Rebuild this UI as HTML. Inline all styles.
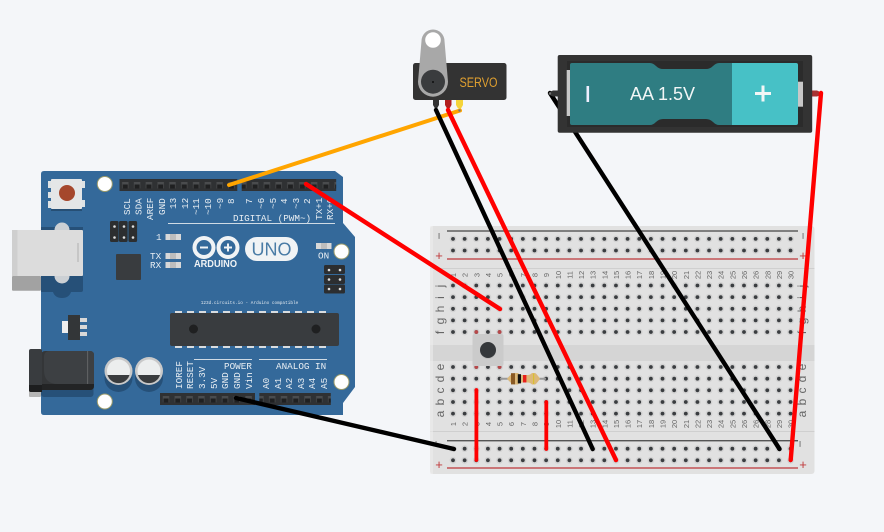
<!DOCTYPE html>
<html><head><meta charset="utf-8"><style>
html,body{margin:0;padding:0;background:#f4f6f9;width:884px;height:532px;overflow:hidden}
svg{display:block}
.m{font-family:"Liberation Mono",monospace;fill:#e8eef3;font-size:9.3px}
.n{font-family:"Liberation Sans",sans-serif;fill:#666;font-size:7.5px;text-anchor:middle}
.l{font-family:"Liberation Sans",sans-serif;fill:#666;font-size:12px;text-anchor:middle}
</style></head><body>
<svg width="884" height="532" viewBox="0 0 884 532" xmlns="http://www.w3.org/2000/svg">
<defs>
<g id="h"><circle r="3.4" fill="#d2d2d2"/><circle r="1.9" fill="#3a3d40"/></g>
<g id="r">
<use href="#h" x="453"/><use href="#h" x="464.64"/><use href="#h" x="476.28"/><use href="#h" x="487.92"/><use href="#h" x="499.56"/><use href="#h" x="511.2"/><use href="#h" x="522.84"/><use href="#h" x="534.48"/><use href="#h" x="546.12"/><use href="#h" x="557.76"/>
<use href="#h" x="569.4"/><use href="#h" x="581.04"/><use href="#h" x="592.68"/><use href="#h" x="604.32"/><use href="#h" x="615.96"/><use href="#h" x="627.6"/><use href="#h" x="639.24"/><use href="#h" x="650.88"/><use href="#h" x="662.52"/><use href="#h" x="674.16"/>
<use href="#h" x="685.8"/><use href="#h" x="697.44"/><use href="#h" x="709.08"/><use href="#h" x="720.72"/><use href="#h" x="732.36"/><use href="#h" x="744"/><use href="#h" x="755.64"/><use href="#h" x="767.28"/><use href="#h" x="778.92"/><use href="#h" x="790.56"/>
</g>
<pattern id="pins" patternUnits="userSpaceOnUse" x="119.3" y="179" width="11.8" height="12">
<rect width="11.8" height="12" fill="#2f3133"/><rect x="2.8" y="3" width="6.4" height="6.4" fill="#4a4c4e"/><rect x="3.5" y="5.5" width="5" height="4" fill="#1f2021"/></pattern>
<pattern id="pins2" patternUnits="userSpaceOnUse" x="160" y="393" width="11.8" height="12">
<rect width="11.8" height="12" fill="#2f3133"/><rect x="2.8" y="3" width="6.4" height="6.4" fill="#4a4c4e"/><rect x="3.5" y="5.5" width="5" height="4" fill="#1f2021"/></pattern>
</defs>

<!-- breadboard -->
<rect x="430" y="226" width="384.5" height="248" rx="3" fill="#e1e1e1"/>
<rect x="430" y="345" width="384.5" height="16" fill="#d5d5d5"/>
<rect x="430" y="268" width="384.5" height="1" fill="#cfcfcf"/>
<rect x="430" y="431" width="384.5" height="1" fill="#cfcfcf"/>
<rect x="430" y="226" width="3" height="248" fill="#ececec" opacity=".6"/>
<rect x="447" y="230.3" width="351" height="1.4" fill="#555"/>
<rect x="447" y="258.3" width="351" height="1.4" fill="#c0494b"/>
<rect x="447" y="440" width="351" height="1.4" fill="#555"/>
<rect x="447" y="467.3" width="351" height="1.4" fill="#c0494b"/>
<use href="#r" y="238.9"/><use href="#r" y="250.5"/>
<use href="#r" y="285.5"/><use href="#r" y="297.1"/><use href="#r" y="308.8"/><use href="#r" y="320.4"/><use href="#r" y="332"/>
<use href="#r" y="367"/><use href="#r" y="378.7"/><use href="#r" y="390.3"/><use href="#r" y="402"/><use href="#r" y="413.6"/>
<use href="#r" y="448.7"/><use href="#r" y="460.3"/>
<circle cx="476.3" cy="332" r="1.9" fill="#b8484a"/><circle cx="499.6" cy="332" r="1.9" fill="#b8484a"/>
<circle cx="476.3" cy="367" r="1.9" fill="#b8484a"/><circle cx="499.6" cy="367" r="1.9" fill="#b8484a"/>
<text x="439" y="240" class="l" transform="rotate(-90 439 236)">−</text>
<text x="439" y="260" class="l" style="fill:#c0393b;font-size:13px">+</text>
<text x="439" y="445" class="l" transform="rotate(-90 439 444)">−</text>
<text x="439" y="469" class="l" style="fill:#c0393b;font-size:13px">+</text>
<text x="803" y="240" class="l" transform="rotate(-90 803 236)">−</text>
<text x="803" y="260" class="l" style="fill:#c0393b;font-size:13px">+</text>
<text x="803" y="445" class="l" transform="rotate(-90 803 444)">−</text>
<text x="803" y="469" class="l" style="fill:#c0393b;font-size:13px">+</text>
<g>
<text class="l" transform="translate(444,286) rotate(-90)">j</text><text class="l" transform="translate(444,297.5) rotate(-90)">i</text><text class="l" transform="translate(444,309) rotate(-90)">h</text><text class="l" transform="translate(444,321) rotate(-90)">g</text><text class="l" transform="translate(444,332.5) rotate(-90)">f</text>
<text class="l" transform="translate(444,367) rotate(-90)">e</text><text class="l" transform="translate(444,379) rotate(-90)">d</text><text class="l" transform="translate(444,390.5) rotate(-90)">c</text><text class="l" transform="translate(444,402) rotate(-90)">b</text><text class="l" transform="translate(444,414) rotate(-90)">a</text>
<text class="l" transform="translate(806,286) rotate(-90)">j</text><text class="l" transform="translate(806,297.5) rotate(-90)">i</text><text class="l" transform="translate(806,309) rotate(-90)">h</text><text class="l" transform="translate(806,321) rotate(-90)">g</text><text class="l" transform="translate(806,332.5) rotate(-90)">f</text>
<text class="l" transform="translate(806,367) rotate(-90)">e</text><text class="l" transform="translate(806,379) rotate(-90)">d</text><text class="l" transform="translate(806,390.5) rotate(-90)">c</text><text class="l" transform="translate(806,402) rotate(-90)">b</text><text class="l" transform="translate(806,414) rotate(-90)">a</text>
</g>
<g>
<text class="n" transform="translate(456,275) rotate(-90)">1</text><text class="n" transform="translate(467.6,275) rotate(-90)">2</text><text class="n" transform="translate(479.3,275) rotate(-90)">3</text><text class="n" transform="translate(490.9,275) rotate(-90)">4</text><text class="n" transform="translate(502.6,275) rotate(-90)">5</text><text class="n" transform="translate(514.2,275) rotate(-90)">6</text><text class="n" transform="translate(525.8,275) rotate(-90)">7</text><text class="n" transform="translate(537.5,275) rotate(-90)">8</text><text class="n" transform="translate(549.1,275) rotate(-90)">9</text><text class="n" transform="translate(560.8,275) rotate(-90)">10</text>
<text class="n" transform="translate(572.4,275) rotate(-90)">11</text><text class="n" transform="translate(584,275) rotate(-90)">12</text><text class="n" transform="translate(595.7,275) rotate(-90)">13</text><text class="n" transform="translate(607.3,275) rotate(-90)">14</text><text class="n" transform="translate(619,275) rotate(-90)">15</text><text class="n" transform="translate(630.6,275) rotate(-90)">16</text><text class="n" transform="translate(642.2,275) rotate(-90)">17</text><text class="n" transform="translate(653.9,275) rotate(-90)">18</text><text class="n" transform="translate(665.5,275) rotate(-90)">19</text><text class="n" transform="translate(677.2,275) rotate(-90)">20</text>
<text class="n" transform="translate(688.8,275) rotate(-90)">21</text><text class="n" transform="translate(700.4,275) rotate(-90)">22</text><text class="n" transform="translate(712.1,275) rotate(-90)">23</text><text class="n" transform="translate(723.7,275) rotate(-90)">24</text><text class="n" transform="translate(735.4,275) rotate(-90)">25</text><text class="n" transform="translate(747,275) rotate(-90)">26</text><text class="n" transform="translate(758.6,275) rotate(-90)">26</text><text class="n" transform="translate(770.3,275) rotate(-90)">28</text><text class="n" transform="translate(781.9,275) rotate(-90)">29</text><text class="n" transform="translate(793.6,275) rotate(-90)">30</text>
<text class="n" transform="translate(456,424) rotate(-90)">1</text><text class="n" transform="translate(467.6,424) rotate(-90)">2</text><text class="n" transform="translate(479.3,424) rotate(-90)">3</text><text class="n" transform="translate(490.9,424) rotate(-90)">4</text><text class="n" transform="translate(502.6,424) rotate(-90)">5</text><text class="n" transform="translate(514.2,424) rotate(-90)">6</text><text class="n" transform="translate(525.8,424) rotate(-90)">7</text><text class="n" transform="translate(537.5,424) rotate(-90)">8</text><text class="n" transform="translate(549.1,424) rotate(-90)">9</text><text class="n" transform="translate(560.8,424) rotate(-90)">10</text>
<text class="n" transform="translate(572.4,424) rotate(-90)">11</text><text class="n" transform="translate(584,424) rotate(-90)">12</text><text class="n" transform="translate(595.7,424) rotate(-90)">13</text><text class="n" transform="translate(607.3,424) rotate(-90)">14</text><text class="n" transform="translate(619,424) rotate(-90)">15</text><text class="n" transform="translate(630.6,424) rotate(-90)">16</text><text class="n" transform="translate(642.2,424) rotate(-90)">17</text><text class="n" transform="translate(653.9,424) rotate(-90)">18</text><text class="n" transform="translate(665.5,424) rotate(-90)">19</text><text class="n" transform="translate(677.2,424) rotate(-90)">20</text>
<text class="n" transform="translate(688.8,424) rotate(-90)">21</text><text class="n" transform="translate(700.4,424) rotate(-90)">22</text><text class="n" transform="translate(712.1,424) rotate(-90)">23</text><text class="n" transform="translate(723.7,424) rotate(-90)">24</text><text class="n" transform="translate(735.4,424) rotate(-90)">25</text><text class="n" transform="translate(747,424) rotate(-90)">26</text><text class="n" transform="translate(758.6,424) rotate(-90)">26</text><text class="n" transform="translate(770.3,424) rotate(-90)">28</text><text class="n" transform="translate(781.9,424) rotate(-90)">29</text><text class="n" transform="translate(793.6,424) rotate(-90)">30</text>
</g>
<!-- button -->
<rect x="472.5" y="334" width="31" height="32" rx="2" fill="#cbcbcb"/>
<circle cx="488" cy="351" r="8" fill="#bdbdbd"/><circle cx="488" cy="350" r="8" fill="#35383b"/>
<!-- resistor -->
<line x1="500" y1="378.7" x2="546" y2="378.7" stroke="#999" stroke-width="2"/>
<path d="M507 378.7 L511 374.5 Q513 373 515 373 L518 373 Q520 375 522 375 L528 375 Q530 375 532 373 L535 373 Q536.5 373.5 540 378.7 Q536.5 384 535 384.5 L532 384.5 Q530 382.5 528 382.5 L522 382.5 Q520 382.5 518 384.5 L515 384.5 Q513 384.5 511 383 Z" fill="#dcb878"/>
<rect x="511" y="373.2" width="4" height="11.2" fill="#8a5a24"/><rect x="517.8" y="374.2" width="3.2" height="9.2" fill="#111"/><rect x="523" y="375" width="3.4" height="7.5" fill="#e8201c"/><rect x="533" y="373.5" width="1.2" height="10.5" fill="#d8c030"/>

<!-- Arduino -->
<rect x="12" y="276" width="29" height="14.7" rx="1" fill="#a2a2a2"/>
<path d="M45 171 H335 L343 177 V223 L355 237 V387 L343 403 V415 H44 Q41 415 41 412 V174 Q41 171 44 171 Z" fill="#34699a"/>
<path d="M41 227 H83 V290 Q83 292 81 292 H71 Q69 298 62 298 Q55 298 53 292 H41 Z" fill="#265078"/>
<circle cx="62" cy="230" r="7.5" fill="#ccd0d4"/>
<circle cx="62" cy="276" r="7.5" fill="#ccd0d4"/>
<rect x="12" y="230" width="71" height="46" rx="1" fill="#dcdcdc"/>
<rect x="12" y="230" width="5.5" height="46" fill="#cfcfcf"/>
<rect x="77" y="243" width="2" height="19" fill="#c6c6c6"/>
<!-- reset -->
<rect x="48" y="181" width="4" height="7" fill="#dfe3e5"/><rect x="48" y="192" width="4" height="6" fill="#dfe3e5"/><rect x="48" y="201" width="4" height="7" fill="#dfe3e5"/>
<rect x="81" y="181" width="4" height="7" fill="#dfe3e5"/><rect x="81" y="200" width="4" height="7" fill="#dfe3e5"/>
<rect x="51" y="179" width="31" height="30" rx="1" fill="#e4e6e7"/>
<circle cx="67" cy="193" r="8" fill="#a5472c"/>
<rect x="51" y="209" width="31" height="2" fill="#264f75"/>
<!-- mount holes -->
<circle cx="104.8" cy="184" r="7.5" fill="#fff" stroke="#9b9b6a" stroke-width="1"/>
<circle cx="341.5" cy="251.5" r="7.5" fill="#fff" stroke="#9b9b6a" stroke-width="1"/>
<circle cx="341.5" cy="382" r="7.5" fill="#fff" stroke="#9b9b6a" stroke-width="1"/>
<circle cx="104.8" cy="401.5" r="7.5" fill="#fff" stroke="#9b9b6a" stroke-width="1"/>
<!-- headers -->
<rect x="119.5" y="179" width="117.8" height="12" fill="url(#pins)"/>
<rect x="241.7" y="179" width="94.5" height="12" fill="url(#pins)"/>
<rect x="160" y="393" width="95" height="12" fill="url(#pins2)"/>
<rect x="259.3" y="393" width="71.5" height="12" fill="url(#pins2)"/>
<!-- ICSP -->
<rect x="110" y="221" width="8.6" height="21" rx="1.5" fill="#2c2e30"/><rect x="119" y="221" width="8.6" height="21" rx="1.5" fill="#2c2e30"/><rect x="128.5" y="221" width="8.6" height="21" rx="1.5" fill="#2c2e30"/>
<circle cx="114.5" cy="226.5" r="1.3" fill="#ddd"/><circle cx="124" cy="226.5" r="1.3" fill="#ddd"/><circle cx="133" cy="226.5" r="1.3" fill="#ddd"/>
<circle cx="114.5" cy="237.5" r="1.3" fill="#ddd"/><circle cx="124" cy="237.5" r="1.3" fill="#ddd"/><circle cx="133" cy="237.5" r="1.3" fill="#ddd"/>
<rect x="324" y="265" width="21" height="9" rx="1.5" fill="#2c2e30"/><rect x="324" y="275" width="21" height="9" rx="1.5" fill="#2c2e30"/><rect x="324" y="284.5" width="21" height="9" rx="1.5" fill="#2c2e30"/>
<circle cx="329" cy="270" r="1.3" fill="#ddd"/><circle cx="340" cy="270" r="1.3" fill="#ddd"/><circle cx="329" cy="279.5" r="1.3" fill="#ddd"/><circle cx="340" cy="279.5" r="1.3" fill="#ddd"/><circle cx="329" cy="289" r="1.3" fill="#ddd"/><circle cx="340" cy="289" r="1.3" fill="#ddd"/>
<!-- small chip -->
<rect x="116" y="254" width="25" height="26" rx="1" fill="#393c3f"/>
<!-- LEDs -->
<rect x="165.5" y="234" width="15.5" height="6" fill="#d8d8d8"/><rect x="170" y="234" width="6" height="6" fill="#bdbdbd"/>
<rect x="165.5" y="253" width="15.5" height="6" fill="#d8d8d8"/><rect x="170" y="253" width="6" height="6" fill="#bdbdbd"/>
<rect x="165.5" y="262" width="15.5" height="6" fill="#d8d8d8"/><rect x="170" y="262" width="6" height="6" fill="#bdbdbd"/>
<rect x="316" y="243" width="15.5" height="6" fill="#d8d8d8"/><rect x="321" y="243" width="6" height="6" fill="#bdbdbd"/>
<text class="m" x="156" y="240">1</text><text class="m" x="150" y="259">TX</text><text class="m" x="150" y="268">RX</text>
<text class="m" x="318" y="258.5">ON</text>
<!-- top labels -->
<g class="m">
<text transform="translate(130,215) rotate(-90)">SCL</text><text transform="translate(141.5,215) rotate(-90)">SDA</text><text transform="translate(153,220) rotate(-90)">AREF</text><text transform="translate(165,215) rotate(-90)">GND</text><text transform="translate(176,209) rotate(-90)">13</text><text transform="translate(188,209) rotate(-90)">12</text><text transform="translate(199,215) rotate(-90)">~11</text><text transform="translate(211,215) rotate(-90)">~10</text><text transform="translate(223,209) rotate(-90)">~9</text><text transform="translate(234,204) rotate(-90)">8</text>
<text transform="translate(252,204) rotate(-90)">7</text><text transform="translate(264,209) rotate(-90)">~6</text><text transform="translate(276,209) rotate(-90)">~5</text><text transform="translate(287,204) rotate(-90)">4</text><text transform="translate(299,209) rotate(-90)">~3</text><text transform="translate(310,204) rotate(-90)">2</text><text transform="translate(322,220) rotate(-90)">TX+1</text><text transform="translate(333,220) rotate(-90)">RX+0</text>
<text x="233" y="221">DIGITAL (PWM~)</text>
<text transform="translate(182,389) rotate(-90)">IOREF</text><text transform="translate(193,389) rotate(-90)">RESET</text><text transform="translate(205,389) rotate(-90)">3.3V</text><text transform="translate(217,389) rotate(-90)">5V</text><text transform="translate(228,389) rotate(-90)">GND</text><text transform="translate(240,389) rotate(-90)">GND</text><text transform="translate(252,389) rotate(-90)">Vin</text>
<text x="224" y="369">POWER</text><text x="276" y="369">ANALOG IN</text>
<text transform="translate(269,389) rotate(-90)">A0</text><text transform="translate(281,389) rotate(-90)">A1</text><text transform="translate(292,389) rotate(-90)">A2</text><text transform="translate(304,389) rotate(-90)">A3</text><text transform="translate(315,389) rotate(-90)">A4</text><text transform="translate(327,389) rotate(-90)">A5</text>
</g>
<rect x="168" y="223" width="167" height="1" fill="#cfdbe5"/>
<rect x="194" y="359" width="58" height="1" fill="#cfdbe5"/><rect x="259" y="359" width="68" height="1" fill="#cfdbe5"/>
<!-- logo -->
<g fill="none" stroke="#f0f3f5" stroke-width="4">
<circle cx="204" cy="247.5" r="9.5"/><circle cx="228" cy="247.5" r="9.5"/>
</g>
<rect x="200" y="246.5" width="8" height="2" fill="#f0f3f5"/><rect x="224" y="246.5" width="8" height="2" fill="#f0f3f5"/><rect x="227" y="243.5" width="2" height="8" fill="#f0f3f5"/>
<text x="194" y="267" textLength="43" lengthAdjust="spacingAndGlyphs" style="font-family:'Liberation Sans',sans-serif;font-weight:bold;font-size:10px" fill="#f0f3f5">ARDUINO</text>
<rect x="245" y="237" width="53" height="24" rx="12" fill="#f0f3f5"/>
<text x="271.5" y="255.5" text-anchor="middle" style="font-family:'Liberation Sans',sans-serif;font-size:18px" fill="#4a7ca6">UNO</text>
<text x="249.5" y="304" text-anchor="middle" style="font-family:'Liberation Mono',monospace;font-size:4.4px" fill="#dfe7ee">123d.circuits.io - Arduino compatible</text>
<!-- MCU -->
<rect x="170" y="313" width="169" height="33" rx="2" fill="#393c3f"/>
<g fill="#d9dde0"><rect x="175" y="311" width="7" height="2"/><rect x="187" y="311" width="7" height="2"/><rect x="199" y="311" width="7" height="2"/><rect x="211" y="311" width="7" height="2"/><rect x="223" y="311" width="7" height="2"/><rect x="235" y="311" width="7" height="2"/><rect x="247" y="311" width="7" height="2"/><rect x="259" y="311" width="7" height="2"/><rect x="271" y="311" width="7" height="2"/><rect x="283" y="311" width="7" height="2"/><rect x="295" y="311" width="7" height="2"/><rect x="307" y="311" width="7" height="2"/><rect x="319" y="311" width="7" height="2"/>
<rect x="175" y="346" width="7" height="2"/><rect x="187" y="346" width="7" height="2"/><rect x="199" y="346" width="7" height="2"/><rect x="211" y="346" width="7" height="2"/><rect x="223" y="346" width="7" height="2"/><rect x="235" y="346" width="7" height="2"/><rect x="247" y="346" width="7" height="2"/><rect x="259" y="346" width="7" height="2"/><rect x="271" y="346" width="7" height="2"/><rect x="283" y="346" width="7" height="2"/><rect x="295" y="346" width="7" height="2"/><rect x="307" y="346" width="7" height="2"/><rect x="319" y="346" width="7" height="2"/></g>
<circle cx="193.5" cy="329" r="4.5" fill="#1f2021"/><circle cx="316" cy="329" r="4.5" fill="#1f2021"/>
<!-- regulator -->
<rect x="62" y="321" width="6" height="12" fill="#eee"/>
<rect x="80" y="318" width="7" height="4" fill="#d8d8d8"/><rect x="80" y="325" width="7" height="4" fill="#d8d8d8"/><rect x="80" y="332" width="7" height="4" fill="#d8d8d8"/>
<rect x="68" y="315" width="12" height="25" fill="#333638"/>
<!-- jack -->
<rect x="41" y="385" width="52.5" height="12" rx="3" fill="#265078"/>
<rect x="29" y="388" width="12" height="9" rx="1" fill="#b5b5b5"/>
<rect x="41" y="351" width="53" height="39" rx="4" fill="#343638"/>
<path d="M50 351 H90 Q94 351 94 355 V384 H58 Q44 384 44 370 V357 Q44 351 50 351 Z" fill="#3d4043"/>
<rect x="87.3" y="351" width="0.8" height="38" fill="#6c6e70"/>
<path d="M42 384 H94 V386 Q94 390 90 390 H42 Z" fill="#232425"/>
<rect x="29" y="349" width="13" height="43" rx="2" fill="#393c3f"/>
<path d="M29 385 H42 V392 H31 Q29 392 29 390 Z" fill="#1d1e1f"/>
<!-- caps -->
<circle cx="118.5" cy="378" r="14" fill="#265078"/><circle cx="149" cy="378" r="14" fill="#265078"/>
<circle cx="118.5" cy="371" r="14" fill="#c9c9c9"/><circle cx="149" cy="371" r="14" fill="#c9c9c9"/>
<circle cx="118.5" cy="371" r="11.5" fill="#eceeee"/><circle cx="149" cy="371" r="11.5" fill="#eceeee"/>
<path d="M107.5 375 H129.5 A11.5 11.5 0 0 1 107.5 375 Z" fill="#3a3c3e"/><path d="M138 375 H160 A11.5 11.5 0 0 1 138 375 Z" fill="#3a3c3e"/>

<!-- wires behind -->
<line x1="229" y1="185" x2="460" y2="110.5" stroke="#ffa500" stroke-width="4" stroke-linecap="round"/>
<line x1="550" y1="93" x2="779.5" y2="449" stroke="#000" stroke-width="4.4" stroke-linecap="round"/>

<!-- servo -->
<rect x="413" y="63" width="93.5" height="37" rx="2.5" fill="#333"/>
<path d="M433 100 H439 V105 L437 108.5 H435 L433 105 Z" fill="#333"/>
<path d="M445 100 H451.5 V105 L449.5 108.5 H447 L445 105 Z" fill="#b01e1e"/>
<path d="M456 100 H463 V105 L461 108.5 H458 L456 105 Z" fill="#f4d43a"/>
<path d="M421.5 41 A11.5 11.5 0 0 1 444.5 41 L448 81.7 A15 15 0 0 1 418 81.7 Z" fill="#a8a8a8"/>
<circle cx="433" cy="40" r="7.8" fill="#fff"/>
<circle cx="433" cy="81.7" r="12" fill="#3a3c3e"/>
<circle cx="433" cy="82" r="0.9" fill="#000"/>
<text x="459.5" y="87" textLength="38" lengthAdjust="spacingAndGlyphs" style="font-family:'Liberation Sans',sans-serif;font-size:13.5px" fill="#e0a030">SERVO</text>
<circle cx="436" cy="110" r="1.2" fill="#777"/><circle cx="448" cy="110" r="1.2" fill="#777"/><circle cx="459.5" cy="110.5" r="1.2" fill="#777"/>

<!-- battery -->
<path d="M558 90.5 H553 Q549 92 548.5 93.5 Q549 95 553 96.5 H558 Z" fill="#333"/>
<path d="M812 90.5 H817 Q820 91.5 821 93.5 Q820 95.5 817 96.5 H812 Z" fill="#a83232"/>
<circle cx="550" cy="93.5" r="1.2" fill="#777"/><circle cx="821" cy="93.5" r="1.2" fill="#777"/>
<rect x="557.7" y="55" width="254.5" height="77.7" rx="2" fill="#333"/>
<rect x="567" y="61" width="236" height="66" fill="#2b2b2b"/>
<rect x="566.7" y="70" width="4" height="46" fill="#c8c8c8"/>
<rect x="797" y="81.7" width="6" height="25" fill="#c8c8c8"/>
<path d="M572 63 H650 Q653 63 656 66 Q659 69 663 69 H706 Q710 69 713 66 Q716 63 719 63 H732 V125 H719 Q716 125 713 122 Q710 119 706 119 H663 Q659 119 656 122 Q653 125 650 125 H572 Q570 125 570 123 V65 Q570 63 572 63 Z" fill="#2f7d82"/>
<path d="M732 63 H796 Q798 63 798 65 V123 Q798 125 796 125 H732 Z" fill="#47c1c6"/>
<rect x="586.5" y="86" width="2.6" height="16" fill="#eef"/>
<text x="662.5" y="100" text-anchor="middle" style="font-family:'Liberation Sans',sans-serif;font-size:18px" fill="#f2f6f6">AA 1.5V</text>
<rect x="755" y="92" width="16" height="3" fill="#f2f6f6"/><rect x="761.5" y="85.5" width="3" height="16" fill="#f2f6f6"/>

<!-- wires above -->
<line x1="306" y1="184" x2="500" y2="309" stroke="#f00" stroke-width="4.4" stroke-linecap="round"/>
<line x1="236" y1="398" x2="454" y2="449" stroke="#000" stroke-width="4.4" stroke-linecap="round"/>
<line x1="436" y1="110" x2="592.7" y2="449" stroke="#000" stroke-width="4.4" stroke-linecap="round"/>
<line x1="448" y1="110" x2="616" y2="460" stroke="#f00" stroke-width="4.4" stroke-linecap="round"/>
<line x1="821" y1="93" x2="790.7" y2="460" stroke="#f00" stroke-width="4.4" stroke-linecap="round"/>
<line x1="476.4" y1="390" x2="476.4" y2="460" stroke="#f00" stroke-width="3.8" stroke-linecap="round"/>
<line x1="546.3" y1="402" x2="546.3" y2="449" stroke="#f00" stroke-width="3.8" stroke-linecap="round"/>
</svg>
</body></html>
